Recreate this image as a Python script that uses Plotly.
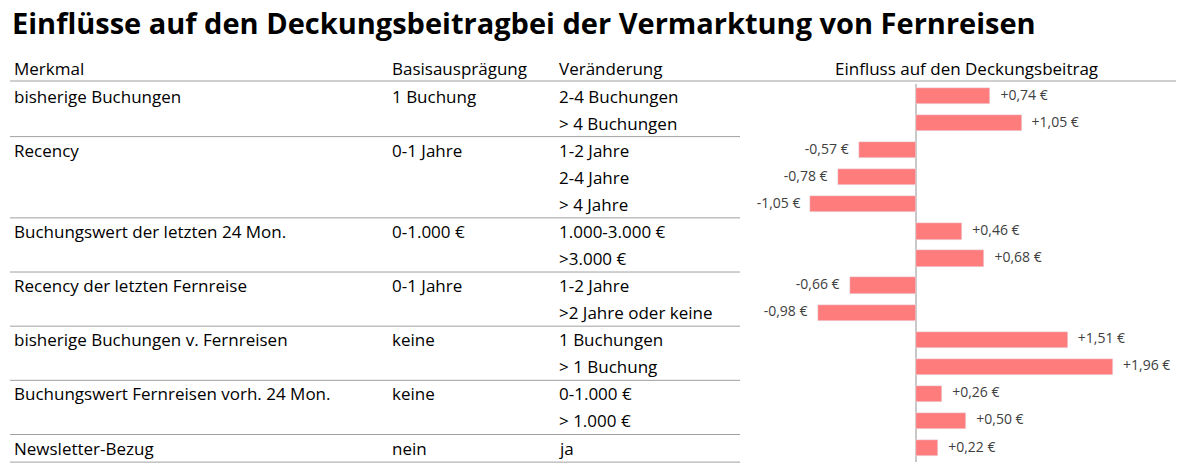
import plotly.graph_objects as go

merkmal = ["bisherige Buchungen", "", "Recency", "", "", "Buchungswert der letzten 24 Mon.", "",
           "Recency der letzten Fernreise", "", "bisherige Buchungen v. Fernreisen", "",
           "Buchungswert Fernreisen vorh. 24 Mon.", "", "Newsletter-Bezug"]
basis = ["1 Buchung", "", "0-1 Jahre", "", "", "0-1.000 €", "", "0-1 Jahre", "", "keine", "", "keine", "", "nein"]
veraenderung = ["2-4 Buchungen", "> 4 Buchungen", "1-2 Jahre", "2-4 Jahre", "> 4 Jahre", "1.000-3.000 €", ">3.000 €",
                "1-2 Jahre", ">2 Jahre oder keine", "1 Buchungen", "> 1 Buchung", "0-1.000 €", "> 1.000 €", "ja"]
einfluss = [0.74, 1.05, -0.57, -0.78, -1.05, 0.46, 0.68, -0.66, -0.98, 1.51, 1.96, 0.26, 0.50, 0.22]
group_ends = [1, 4, 6, 8, 10, 12, 13]

W, H = 1192, 472
OFF = 8  # page offset
y0, dy = 96 - OFF, 27.08
def py(p):
    return (p - OFF - y0) / dy
def px(p):
    return (p - OFF) / W

idx = list(range(len(einfluss)))
labels = [("+" if v > 0 else "") + f"{v:.2f}".replace(".", ",") + " €" for v in einfluss]
scale = 100.5
fig = go.Figure(go.Bar(x=einfluss, y=idx, orientation="h", marker_color="#FF7C7C", width=0.6,
                       hoverinfo="skip"))
fig.add_trace(go.Scatter(x=[v + (0.1 if v > 0 else -0.1) for v in einfluss], y=idx, mode="text",
                         text=labels, textposition=["middle right" if v > 0 else "middle left" for v in einfluss],
                         textfont=dict(size=14, color="#404040", family="Open Sans"), cliponaxis=False,
                         hoverinfo="skip"))
zero = 916 - OFF
fig.update_layout(width=W, height=H, margin=dict(l=0, r=0, t=0, b=0), plot_bgcolor="white",
                  paper_bgcolor="white", showlegend=False, bargap=0,
                  font=dict(family="Open Sans", size=17, color="#000000"),
                  xaxis=dict(domain=[(740 - OFF) / W, 1], range=[-(zero - 740 + OFF) / scale, (W - zero) / scale], visible=False),
                  yaxis=dict(range=[py(H + OFF), py(OFF)], visible=False))
ann = []
def t(x, yy, s, anchor="left", **kw):
    ann.append(dict(x=px(x), xref="paper", y=yy, yref="y", text=s, showarrow=False,
                    xanchor=anchor, yanchor="middle", **kw))
t(10, py(22), "<b>Einflüsse auf den Deckungsbeitragbei der Vermarktung von Fernreisen</b>", font=dict(size=29))
for x, s in [(12, "Merkmal"), (390, "Basisausprägung"), (557, "Veränderung")]:
    t(x, py(68), s)
t(966, py(68), "Einfluss auf den Deckungsbeitrag", anchor="center")
for i in idx:
    if merkmal[i]: t(12, i, merkmal[i])
    if basis[i]: t(390, i, basis[i])
    t(557, i, veraenderung[i])
shapes = [dict(type="line", xref="paper", yref="y", x0=px(10), x1=px(1176), y0=py(81), y1=py(81),
               line=dict(color="#A0A0A0", width=1.2))]
for g in group_ends:
    yy = g + 0.5 + (0.02 if g == 13 else 0)
    shapes.append(dict(type="line", xref="paper", yref="y", x0=px(10), x1=px(740), y0=yy, y1=yy,
                       line=dict(color="#A0A0A0", width=1)))
shapes.append(dict(type="line", xref="x", yref="y", x0=0, x1=0, y0=py(84), y1=py(462),
                   line=dict(color="#C8C8C8", width=2), layer="below"))
fig.update_layout(annotations=ann, shapes=shapes)
fig.write_html("out.html")
